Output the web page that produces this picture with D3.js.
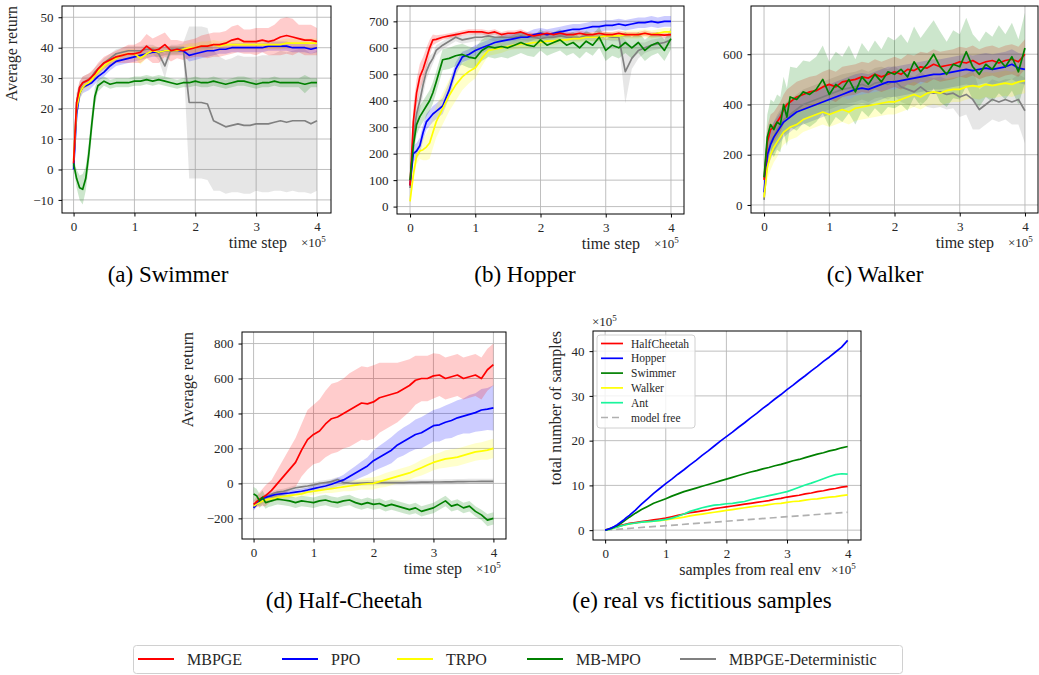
<!DOCTYPE html>
<html>
<head>
<meta charset="utf-8">
<script src="https://cdn.jsdelivr.net/npm/d3@7"></script>
<style>
  body { margin: 0; background: #fff; }
  svg { font-family: "Liberation Serif", "DejaVu Serif", serif; }
</style>
</head>
<body>
<svg id="chart" width="1039" height="675"></svg>
<script>
// time steps (x 1e5)
var steps = [0, 0.05, 0.1, 0.15, 0.2, 0.25, 0.3, 0.35, 0.4,
  0.5, 0.6, 0.7, 0.8, 0.9, 1.0, 1.1, 1.2, 1.3, 1.4,
  1.5, 1.6, 1.7, 1.8, 1.9, 2.0, 2.1, 2.2, 2.3, 2.4,
  2.5, 2.6, 2.7, 2.8, 2.9, 3.0, 3.1, 3.2, 3.3, 3.4,
  3.5, 3.6, 3.7, 3.8, 3.9, 4.0];

var methods = ["MBPGE", "PPO", "TRPO", "MB-MPO", "MBPGE-Deterministic"];

// ---- (a) Swimmer ----
var swimMBPGE = [2, 22, 27, 28.5, 29, 29.5, 30.5, 31.5, 33,
  35, 36, 37, 37.5, 38, 38, 38.5, 40.5, 39, 39.5,
  41, 39, 39.5, 39, 39.5, 40, 40.5, 40.5, 41, 41,
  41.5, 42.5, 43, 42, 42, 42, 42.5, 42, 42.5, 43.5,
  44, 43.5, 43, 42.5, 42.5, 42];
var swimMBPGESd = [1, 3, 2, 2, 2, 2, 2, 2, 2,
  2, 2, 2, 2.5, 3, 3, 3.5, 4, 4, 4.5,
  4, 3.5, 3, 3, 3, 3, 3.5, 4, 4, 4,
  4, 4.5, 4.5, 4, 4, 4.5, 4, 4.5, 5, 6,
  6, 6, 4.5, 5, 5, 4.5];
var swimPPO = [0, 18, 25, 27, 27.5, 28, 28.5, 29.5, 30.5,
  32, 34, 35.5, 36, 36.5, 37, 37.5, 38, 38.5, 38.5,
  39, 39, 39, 39, 37.5, 38, 38.5, 39, 39, 39.5,
  39.5, 40, 40, 40, 40, 40, 40, 40.5, 40.5, 40.5,
  40.5, 40, 40, 40, 39.5, 40];
var swimPPOSd = [0.5, 2, 2, 2, 2, 2, 1.5, 1.5, 1.5,
  1.5, 1.5, 1.5, 1.5, 1.5, 1.5, 1.5, 1.5, 1.5, 1.5,
  1.5, 1.5, 1.5, 1.5, 2, 2, 2, 2, 1.5, 1.5,
  1.5, 1.5, 1.5, 1.5, 1.5, 1.5, 1.5, 1.5, 1.5, 1.5,
  1.5, 1.5, 1.5, 1.5, 1.5, 1.5];
var swimTRPO = [3, 20, 25, 27, 28, 28.5, 29.5, 31, 32,
  34, 35.5, 36.5, 37.5, 38, 38, 36.5, 38, 39, 38.5,
  39, 39, 39, 39.5, 40, 40, 40.5, 40.5, 41, 40.5,
  41, 41, 41, 41, 41, 41, 41, 41, 41, 41,
  41.5, 41.5, 41.5, 41.5, 41.5, 41.5];
var swimTRPOSd = [1, 3, 2, 2, 1.5, 1.5, 1.5, 1.5, 1.5,
  1.5, 1.5, 1.5, 1.5, 1.5, 1.5, 2, 1.5, 1.5, 1.5,
  1.5, 1.5, 1.5, 1.5, 1.5, 1.5, 1.5, 1.5, 1.5, 1.5,
  1.5, 1.5, 1.5, 1.5, 1.5, 1.5, 1.5, 1.5, 1.5, 1.5,
  1.5, 1.5, 1.5, 1.5, 1.5, 1.5];
var swimMBMPO = [2, -3, -6, -6.5, -3, 5, 15, 24, 27.5,
  29, 28, 28.5, 28.5, 28.5, 29, 29, 29.5, 29, 29.5,
  29, 28.5, 28, 28.5, 28.5, 29, 28.5, 28.5, 29, 28.5,
  28, 28.5, 29, 29, 28.5, 28, 28.5, 28.5, 29, 28.5,
  28.5, 28.5, 28.5, 28, 28.5, 28.5];
var swimMBMPOSd = [1.5, 3, 4, 5, 4, 4, 4, 3, 2,
  1.5, 1.5, 1.5, 1.5, 1.5, 1.5, 1.5, 1.5, 1.5, 1.5,
  1.5, 1.5, 1.5, 1.5, 1.5, 1.5, 1.5, 1.5, 1.5, 1.5,
  1.5, 1.5, 1.5, 1.5, 1.5, 1.5, 1.5, 1.5, 1.5, 1.5,
  1.5, 1.5, 1.5, 3, 1.5, 1.5];
var swimDet = [1, 22, 27, 28.5, 29, 29.5, 30.5, 32, 33,
  35, 36.5, 38, 38.5, 39, 39, 39, 39.5, 39.5, 38,
  34, 39.5, 39.5, 40, 22, 22, 22, 21.5, 16, 15,
  14, 14.5, 15, 14.5, 14.5, 15, 15, 15, 15.5, 16,
  15.5, 16, 16, 16, 15, 16];
var swimDetSd = [1, 3, 2, 2, 2, 2, 1.5, 1.5, 1.5,
  1.5, 1.5, 1.5, 1.5, 1.5, 1.5, 1.5, 1.5, 1.5, 2,
  4, 1.5, 1.5, 1.5, 25, 25, 25, 25, 23, 22,
  22, 22, 22.5, 22.5, 22.5, 22, 22.5, 22.5, 22.5, 23,
  23, 23, 23.5, 23.5, 23, 23];

// ---- (b) Hopper ----
var hopMBPGE = [80, 320, 430, 490, 520, 560, 600, 630, 632,
  640, 645, 650, 655, 660, 660, 660, 655, 660, 650,
  655, 655, 660, 650, 645, 650, 655, 650, 655, 650,
  650, 655, 650, 650, 655, 650, 650, 655, 650, 650,
  650, 655, 650, 650, 648, 650];
var hopMBPGESd = [10, 60, 50, 50, 45, 40, 30, 20, 15,
  10, 10, 10, 10, 10, 10, 10, 10, 10, 10,
  10, 10, 10, 10, 10, 10, 10, 10, 10, 10,
  10, 10, 10, 10, 10, 10, 10, 10, 10, 10,
  10, 10, 10, 10, 10, 10];
var hopPPO = [80, 200, 210, 230, 280, 320, 335, 350, 360,
  380, 440, 520, 565, 575, 590, 600, 610, 620, 625,
  630, 635, 640, 640, 650, 655, 650, 655, 660, 665,
  670, 670, 675, 680, 680, 685, 685, 690, 685, 690,
  695, 695, 700, 695, 700, 700];
var hopPPOSd = [10, 30, 30, 30, 30, 30, 30, 30, 30,
  30, 30, 25, 20, 20, 20, 20, 20, 20, 20,
  20, 20, 20, 20, 20, 20, 20, 20, 20, 20,
  20, 20, 20, 20, 20, 20, 20, 20, 20, 20,
  20, 20, 20, 20, 20, 20];
var hopTRPO = [20, 120, 190, 210, 215, 225, 240, 280, 320,
  370, 420, 460, 490, 510, 525, 560, 590, 595, 600,
  605, 610, 615, 615, 620, 620, 625, 625, 630, 630,
  635, 635, 640, 640, 640, 645, 645, 645, 650, 650,
  650, 655, 650, 655, 660, 660];
var hopTRPOSd = [10, 30, 30, 30, 40, 50, 60, 60, 60,
  60, 60, 60, 50, 45, 40, 30, 20, 20, 20,
  15, 15, 15, 15, 15, 15, 15, 15, 15, 15,
  15, 15, 15, 15, 15, 15, 15, 15, 15, 15,
  15, 15, 15, 15, 15, 15];
var hopMBMPO = [100, 230, 310, 340, 360, 380, 400, 430, 470,
  555, 560, 570, 575, 565, 560, 590, 605, 600, 605,
  600, 610, 620, 610, 605, 630, 610, 620, 630, 610,
  620, 600, 625, 610, 640, 590, 610, 600, 620, 600,
  620, 590, 610, 620, 590, 635];
var hopMBMPOSd = [10, 40, 40, 40, 40, 40, 40, 40, 40,
  40, 40, 40, 40, 40, 40, 40, 40, 40, 40,
  40, 40, 40, 40, 40, 40, 40, 40, 40, 40,
  40, 40, 40, 40, 40, 40, 40, 40, 40, 40,
  40, 40, 40, 40, 40, 40];
var hopDet = [70, 260, 350, 400, 460, 510, 540, 560, 590,
  610, 625, 640, 630, 635, 640, 640, 645, 640, 640,
  640, 640, 645, 640, 640, 635, 640, 640, 645, 640,
  640, 640, 645, 640, 640, 645, 640, 640, 510, 560,
  590, 600, 610, 615, 620, 630];
var hopDetSd = [10, 50, 50, 40, 40, 30, 30, 20, 20,
  15, 15, 15, 15, 15, 15, 15, 15, 15, 15,
  15, 15, 15, 15, 15, 15, 15, 15, 15, 15,
  15, 15, 15, 15, 15, 15, 15, 15, 120, 40,
  30, 20, 20, 20, 20, 20];

// ---- (c) Walker ----
var walkMBPGE = [100, 250, 300, 310, 330, 350, 380, 400, 410,
  430, 440, 450, 455, 470, 480, 470, 490, 495, 500,
  510, 505, 520, 510, 520, 530, 520, 540, 535, 550,
  545, 560, 550, 555, 560, 570, 565, 575, 560, 570,
  575, 565, 575, 580, 570, 600];
var walkMBPGESd = [20, 60, 60, 60, 60, 60, 60, 60, 60,
  60, 60, 60, 60, 60, 60, 60, 60, 60, 60,
  60, 60, 60, 60, 60, 60, 60, 60, 60, 60,
  60, 60, 60, 60, 60, 60, 60, 60, 60, 60,
  60, 60, 60, 60, 60, 60];
var walkPPO = [50, 200, 240, 270, 290, 310, 330, 340, 350,
  370, 380, 390, 400, 410, 420, 430, 440, 450, 460,
  465, 460, 470, 480, 490, 490, 495, 500, 505, 510,
  515, 520, 520, 525, 530, 535, 540, 535, 540, 545,
  540, 545, 550, 560, 545, 540];
var walkPPOSd = [10, 50, 60, 60, 60, 60, 60, 60, 60,
  60, 60, 60, 60, 60, 60, 60, 60, 60, 60,
  60, 60, 60, 60, 60, 60, 60, 60, 60, 60,
  60, 60, 60, 60, 60, 60, 60, 60, 60, 60,
  60, 60, 60, 60, 60, 60];
var walkTRPO = [30, 150, 200, 230, 250, 270, 290, 300, 310,
  320, 340, 350, 360, 370, 360, 370, 380, 370, 385,
  390, 395, 400, 405, 410, 410, 420, 430, 440, 430,
  445, 450, 445, 455, 460, 460, 470, 475, 470, 480,
  475, 480, 485, 480, 490, 495];
var walkTRPOSd = [10, 50, 60, 60, 60, 50, 50, 50, 50,
  50, 50, 50, 50, 50, 50, 50, 50, 50, 50,
  50, 50, 50, 50, 50, 50, 50, 50, 50, 50,
  50, 50, 50, 50, 50, 50, 50, 50, 50, 50,
  50, 50, 50, 50, 50, 50];
var walkMBMPO = [110, 270, 320, 300, 330, 320, 400, 350, 430,
  420, 450, 440, 460, 500, 440, 480, 460, 500, 450,
  510, 480, 520, 490, 530, 520, 540, 510, 570, 530,
  560, 600, 550, 520, 560, 550, 610, 550, 520, 560,
  540, 580, 550, 590, 530, 625];
var walkMBMPOSd = [20, 90, 100, 110, 110, 110, 110, 115, 120,
  125, 125, 130, 130, 135, 130, 130, 130, 135, 130,
  135, 130, 135, 130, 140, 135, 140, 135, 140, 135,
  140, 135, 140, 130, 135, 130, 135, 130, 130, 130,
  130, 135, 130, 135, 130, 140];
var walkDet = [20, 180, 250, 270, 300, 320, 340, 350, 360,
  380, 400, 410, 420, 430, 440, 450, 460, 465, 470,
  480, 470, 485, 490, 480, 495, 470, 460, 450, 470,
  450, 445, 450, 440, 445, 430, 440, 420, 380, 400,
  420, 410, 420, 410, 420, 375];
var walkDetSd = [10, 50, 60, 60, 60, 60, 60, 60, 60,
  60, 60, 60, 60, 60, 60, 60, 60, 60, 60,
  60, 60, 60, 60, 60, 60, 60, 60, 60, 60,
  60, 60, 60, 60, 60, 80, 80, 120, 80, 80,
  80, 80, 80, 90, 100, 130];

// ---- (d) Half-Cheetah ----
var hcMBPGE = [-120, -105, -90, -80, -70, -55, -40, -20, 0,
  40, 80, 120, 190, 250, 280, 300, 340, 370, 380,
  400, 420, 440, 460, 455, 466, 490, 500, 510, 520,
  540, 560, 590, 600, 600, 615, 620, 600, 610, 620,
  600, 610, 620, 600, 650, 680];
var hcMBPGESd = [20, 30, 40, 50, 60, 60, 60, 70, 80,
  100, 120, 140, 150, 170, 170, 180, 190, 200, 200,
  200, 210, 210, 210, 210, 210, 200, 190, 180, 170,
  160, 150, 140, 130, 130, 130, 120, 120, 120, 120,
  120, 120, 120, 120, 120, 120];
var hcPPO = [-140, -120, -100, -90, -80, -75, -70, -65, -62,
  -58, -55, -50, -45, -38, -30, -22, -15, -5, 8,
  20, 40, 60, 80, 100, 130, 150, 170, 190, 220,
  240, 260, 280, 290, 310, 330, 335, 350, 360, 375,
  385, 395, 405, 420, 425, 432];
var hcPPOSd = [15, 15, 15, 15, 15, 15, 15, 15, 15,
  15, 15, 15, 15, 15, 20, 20, 20, 25, 25,
  30, 35, 40, 45, 50, 60, 65, 70, 75, 75,
  80, 80, 85, 90, 90, 90, 95, 95, 100, 100,
  100, 110, 110, 120, 120, 130];
var hcTRPO = [-130, -120, -110, -100, -95, -90, -88, -85, -80,
  -75, -70, -65, -60, -50, -45, -40, -35, -30, -25,
  -20, -15, -10, -5, -2, 0, 10, 20, 30, 40,
  50, 60, 75, 90, 105, 120, 130, 140, 145, 150,
  160, 170, 180, 185, 190, 200];
var hcTRPOSd = [15, 15, 15, 15, 15, 15, 15, 15, 15,
  15, 15, 15, 15, 20, 20, 20, 20, 25, 25,
  25, 30, 30, 30, 35, 35, 35, 40, 40, 40,
  40, 40, 40, 45, 45, 45, 45, 50, 50, 50,
  50, 50, 50, 50, 55, 55];
var hcMBMPO = [-60, -70, -100, -80, -110, -105, -100, -95, -90,
  -95, -100, -110, -100, -105, -110, -100, -95, -105, -110,
  -100, -95, -110, -120, -110, -120, -115, -130, -120, -130,
  -140, -150, -140, -160, -150, -140, -120, -100, -130, -120,
  -140, -130, -160, -180, -210, -200];
var hcMBMPOSd = [40, 40, 40, 40, 35, 30, 30, 30, 30,
  30, 30, 30, 30, 30, 30, 30, 30, 30, 30,
  30, 30, 30, 30, 30, 30, 30, 30, 30, 30,
  30, 30, 30, 30, 30, 30, 30, 30, 30, 30,
  30, 30, 30, 30, 35, 35];
var hcDet = [-130, -110, -100, -85, -75, -70, -62, -55, -50,
  -45, -35, -25, -20, -15, -8, 0, 5, 10, 22,
  5, 2, 0, 2, 3, 3, 4, 4, 5, 5,
  5, 6, 6, 7, 7, 8, 8, 9, 9, 10,
  10, 11, 11, 12, 12, 12];
var hcDetSd = [15, 15, 15, 15, 15, 15, 15, 15, 15,
  15, 15, 15, 15, 15, 15, 15, 15, 15, 15,
  15, 15, 15, 15, 15, 15, 15, 15, 15, 15,
  15, 15, 15, 15, 15, 15, 15, 15, 15, 15,
  15, 15, 15, 15, 15, 15];

// ---- (e) real vs fictitious samples (x 1e5) ----
var envNames = ["HalfCheetah", "Hopper", "Swimmer", "Walker", "Ant", "model free"];
var realHalfCheetah = [0, 0.2, 0.4, 0.6, 0.8, 1.0, 1.2, 1.35, 1.5,
  1.7, 1.9, 2.1, 2.3, 2.5, 2.7, 3.0, 3.3, 3.6, 3.9,
  4.1, 4.3, 4.5, 4.8, 5.0, 5.2, 5.4, 5.6, 5.8, 6.0,
  6.2, 6.4, 6.6, 6.9, 7.1, 7.4, 7.6, 7.8, 8.1, 8.3,
  8.6, 8.8, 9.1, 9.3, 9.6, 9.8];
var realHopper = [0, 0.2, 0.5, 0.8, 1.2, 1.7, 2.2, 2.8, 3.3,
  4.5, 5.8, 7.0, 8.2, 9.3, 10.4, 11.4, 12.5, 13.5, 14.6,
  15.6, 16.7, 17.7, 18.8, 19.9, 20.9, 21.9, 23.0, 24.0, 25.1,
  26.1, 27.2, 28.2, 29.3, 30.3, 31.4, 32.4, 33.5, 34.5, 35.6,
  36.6, 37.7, 38.7, 39.8, 40.9, 42.4];
var realSwimmer = [0, 0.2, 0.4, 0.7, 1.0, 1.4, 1.9, 2.4, 2.9,
  3.8, 4.6, 5.3, 6.0, 6.5, 7.0, 7.6, 8.1, 8.6, 9.0,
  9.4, 9.8, 10.2, 10.6, 11.0, 11.4, 11.8, 12.2, 12.6, 13.0,
  13.3, 13.7, 14.0, 14.4, 14.7, 15.1, 15.5, 15.8, 16.2, 16.6,
  17.0, 17.3, 17.7, 18.0, 18.4, 18.7];
var realWalker = [0, 0.1, 0.3, 0.5, 0.7, 0.9, 1.1, 1.2, 1.4,
  1.6, 1.8, 1.9, 2.0, 2.1, 2.3, 2.5, 2.7, 2.9, 3.2,
  3.4, 3.6, 3.8, 4.0, 4.2, 4.4, 4.6, 4.8, 5.0, 5.2,
  5.4, 5.5, 5.7, 5.9, 6.0, 6.2, 6.4, 6.5, 6.7, 6.9,
  7.0, 7.2, 7.4, 7.5, 7.7, 7.9];
var realAnt = [0, 0.1, 0.3, 0.5, 0.7, 0.9, 1.1, 1.3, 1.4,
  1.6, 1.8, 1.9, 2.0, 2.2, 2.4, 2.7, 3.1, 3.6, 4.2,
  4.6, 5.0, 5.3, 5.6, 5.7, 5.9, 6.0, 6.2, 6.4, 6.8,
  7.1, 7.4, 7.7, 8.0, 8.3, 8.6, 9.1, 9.6, 10.1, 10.5,
  11.0, 11.5, 12.0, 12.4, 12.6, 12.5];
var modelFreeX = [0, 4];
var modelFree = [0, 4];

// ---------------- drawing ----------------
var colorOf = {
  "MBPGE": "#ff0000", "PPO": "#0000ff", "TRPO": "#ffff00",
  "MB-MPO": "#008000", "MBPGE-Deterministic": "#808080",
  "HalfCheetah": "#ff0000", "Hopper": "#0000ff", "Swimmer": "#008000",
  "Walker": "#ffff00", "Ant": "#19f59c", "model free": "#b0b0b0"
};

var svg = d3.select("#chart");

function runs(m) {
  // m: [MBPGE, PPO, TRPO, MB-MPO, Det] each [mean, sd]; drawn gray, blue, yellow, red, green
  var order = [4, 1, 2, 0, 3];
  return order.map(function(i) {
    return { name: methods[i], x: steps, y: m[i][0], sd: m[i][1] };
  });
}

function drawPanel(p, idx) {
  var x = d3.scaleLinear().domain(p.xDomain).range([p.left, p.right]);
  var y = d3.scaleLinear().domain(p.yDomain).range([p.bottom, p.top]);
  var g = svg.append("g");

  svg.append("clipPath").attr("id", "clip" + idx)
    .append("rect")
    .attr("x", p.left).attr("y", p.top)
    .attr("width", p.right - p.left).attr("height", p.bottom - p.top);

  // grid
  g.append("g").selectAll("line").data(p.xTicks).join("line")
    .attr("x1", function(d) { return x(d); }).attr("x2", function(d) { return x(d); })
    .attr("y1", p.top).attr("y2", p.bottom)
    .attr("stroke", "#b8b8b8").attr("stroke-width", 0.9);
  g.append("g").selectAll("line").data(p.yTicks).join("line")
    .attr("y1", function(d) { return y(d); }).attr("y2", function(d) { return y(d); })
    .attr("x1", p.left).attr("x2", p.right)
    .attr("stroke", "#b8b8b8").attr("stroke-width", 0.9);

  var plot = g.append("g").attr("clip-path", "url(#clip" + idx + ")");

  // bands first
  p.series.forEach(function(s) {
    if (!s.sd) return;
    var pts = s.x.map(function(t, i) { return { t: t, m: s.y[i], sd: s.sd[i] }; });
    plot.append("path").datum(pts)
      .attr("d", d3.area()
        .x(function(d) { return x(d.t); })
        .y0(function(d) { return y(d.m - d.sd); })
        .y1(function(d) { return y(d.m + d.sd); }))
      .attr("fill", colorOf[s.name]).attr("fill-opacity", 0.2);
  });

  p.series.forEach(function(s) {
    var pts = s.x.map(function(t, i) { return [t, s.y[i]]; });
    plot.append("path").datum(pts)
      .attr("d", d3.line().x(function(d) { return x(d[0]); }).y(function(d) { return y(d[1]); }))
      .attr("fill", "none")
      .attr("stroke", colorOf[s.name])
      .attr("stroke-width", 1.7)
      .attr("stroke-dasharray", s.dash ? "7,4" : null)
      .attr("stroke-linejoin", "round");
  });

  // axes
  var ax = g.append("g").attr("transform", "translate(0," + p.bottom + ")")
    .call(d3.axisBottom(x).tickValues(p.xTicks).tickSize(3.5).tickPadding(5).tickFormat(d3.format("d")));
  var ay = g.append("g").attr("transform", "translate(" + p.left + ",0)")
    .call(d3.axisLeft(y).tickValues(p.yTicks).tickSize(3.5).tickPadding(5).tickFormat(d3.format("d")));
  [ax, ay].forEach(function(a) {
    a.attr("font-family", null).attr("font-size", 13).attr("color", "#000");
    a.select(".domain").remove();
    a.selectAll("text").attr("fill", "#262626");
  });

  // frame
  g.append("rect")
    .attr("x", p.left).attr("y", p.top)
    .attr("width", p.right - p.left).attr("height", p.bottom - p.top)
    .attr("fill", "none").attr("stroke", "#000").attr("stroke-width", 1);

  // x label + offset
  g.append("text")
    .attr("x", p.right - p.xLabelGap).attr("y", p.bottom + 35)
    .attr("text-anchor", "end").attr("font-size", 16).attr("fill", "#262626")
    .text(p.xLabel);
  var off = g.append("text")
    .attr("x", p.right - 30).attr("y", p.bottom + 34)
    .attr("font-size", 13).attr("fill", "#262626");
  off.append("tspan").text("\u00d710");
  off.append("tspan").attr("dy", -5).attr("font-size", 9).text("5");

  if (p.yLabel) {
    g.append("text")
      .attr("transform", "translate(" + p.yLabelX + "," + p.top + ") rotate(-90)")
      .attr("text-anchor", "end").attr("font-size", 16).attr("fill", "#262626")
      .text(p.yLabel);
  }
  if (p.yOffset) {
    var yo = g.append("text")
      .attr("x", p.left - 1).attr("y", p.top - 5)
      .attr("font-size", 13).attr("fill", "#262626");
    yo.append("tspan").text("\u00d710");
    yo.append("tspan").attr("dy", -5).attr("font-size", 9).text("5");
  }

  // caption
  svg.append("text")
    .attr("x", p.capX).attr("y", p.capY)
    .attr("text-anchor", "middle").attr("font-size", 23).attr("fill", "#000")
    .text(p.caption);

  return { x: x, y: y };
}

var xTicks = [0, 1, 2, 3, 4];

var panels = [
  {
    left: 62, right: 331, top: 6, bottom: 213, xDomain: [-0.19, 4.23], yDomain: [-14.3, 53.7],
    xTicks: xTicks, yTicks: [-10, 0, 10, 20, 30, 40, 50],
    series: runs([[swimMBPGE, swimMBPGESd], [swimPPO, swimPPOSd], [swimTRPO, swimTRPOSd],
                  [swimMBMPO, swimMBMPOSd], [swimDet, swimDetSd]]),
    xLabel: "time step", xLabelGap: 44, yLabel: "Average return", yLabelX: 17,
    caption: "(a) Swimmer", capX: 168, capY: 282
  },
  {
    left: 397, right: 684, top: 6, bottom: 214, xDomain: [-0.2, 4.2], yDomain: [-28, 758],
    xTicks: xTicks, yTicks: [0, 100, 200, 300, 400, 500, 600, 700],
    series: runs([[hopMBPGE, hopMBPGESd], [hopPPO, hopPPOSd], [hopTRPO, hopTRPOSd],
                  [hopMBMPO, hopMBMPOSd], [hopDet, hopDetSd]]),
    xLabel: "time step", xLabelGap: 44,
    caption: "(b) Hopper", capX: 525, capY: 282
  },
  {
    left: 751, right: 1038, top: 6, bottom: 213, xDomain: [-0.2, 4.2], yDomain: [-32, 792],
    xTicks: xTicks, yTicks: [0, 200, 400, 600],
    series: runs([[walkMBPGE, walkMBPGESd], [walkPPO, walkPPOSd], [walkTRPO, walkTRPOSd],
                  [walkMBMPO, walkMBMPOSd], [walkDet, walkDetSd]]),
    xLabel: "time step", xLabelGap: 44,
    caption: "(c) Walker", capX: 875, capY: 282
  },
  {
    left: 242, right: 506, top: 332, bottom: 539, xDomain: [-0.193, 4.21], yDomain: [-318, 866],
    xTicks: xTicks, yTicks: [-200, 0, 200, 400, 600, 800],
    series: runs([[hcMBPGE, hcMBPGESd], [hcPPO, hcPPOSd], [hcTRPO, hcTRPOSd],
                  [hcMBMPO, hcMBMPOSd], [hcDet, hcDetSd]]),
    xLabel: "time step", xLabelGap: 44, yLabel: "Average return", yLabelX: 193,
    caption: "(d) Half-Cheetah", capX: 344, capY: 608
  },
  {
    left: 593, right: 861, top: 331, bottom: 540, xDomain: [-0.2, 4.22], yDomain: [-2.2, 44.5],
    xTicks: xTicks, yTicks: [0, 10, 20, 30, 40],
    series: [
      { name: "model free", x: modelFreeX, y: modelFree, dash: true },
      { name: "Walker", x: steps, y: realWalker },
      { name: "HalfCheetah", x: steps, y: realHalfCheetah },
      { name: "Ant", x: steps, y: realAnt },
      { name: "Swimmer", x: steps, y: realSwimmer },
      { name: "Hopper", x: steps, y: realHopper }
    ],
    xLabel: "samples from real env", xLabelGap: 40, yLabel: "total number of samples", yLabelX: 561,
    yOffset: true,
    caption: "(e) real vs fictitious samples", capX: 702, capY: 608
  }
];

panels.forEach(function(p, i) { drawPanel(p, i); });

// legend inside (e)
var lg = svg.append("g");
lg.append("rect").attr("x", 597).attr("y", 335).attr("width", 98).attr("height", 93)
  .attr("rx", 3).attr("fill", "#fff").attr("fill-opacity", 0.8)
  .attr("stroke", "#d0d0d0").attr("stroke-width", 1);
envNames.forEach(function(n, i) {
  var yy = 343.5 + i * 14.8;
  lg.append("line").attr("x1", 601).attr("x2", 623).attr("y1", yy).attr("y2", yy)
    .attr("stroke", colorOf[n]).attr("stroke-width", 1.7)
    .attr("stroke-dasharray", n === "model free" ? "7,4" : null);
  lg.append("text").attr("x", 631).attr("y", yy + 4)
    .attr("font-size", 11.5).attr("fill", "#262626").text(n);
});

// bottom legend
var bl = svg.append("g");
bl.append("rect").attr("x", 133.5).attr("y", 645.5).attr("width", 769).attr("height", 28)
  .attr("rx", 3).attr("fill", "#fff").attr("stroke", "#d0d0d0").attr("stroke-width", 1);
var slots = [138, 282, 397, 527, 680];
methods.forEach(function(m, i) {
  bl.append("line").attr("x1", slots[i]).attr("x2", slots[i] + 36)
    .attr("y1", 659).attr("y2", 659)
    .attr("stroke", colorOf[m]).attr("stroke-width", 2);
  bl.append("text").attr("x", slots[i] + 49).attr("y", 664.5)
    .attr("font-size", 16).attr("fill", "#262626").text(m);
});
</script>
</body>
</html>
